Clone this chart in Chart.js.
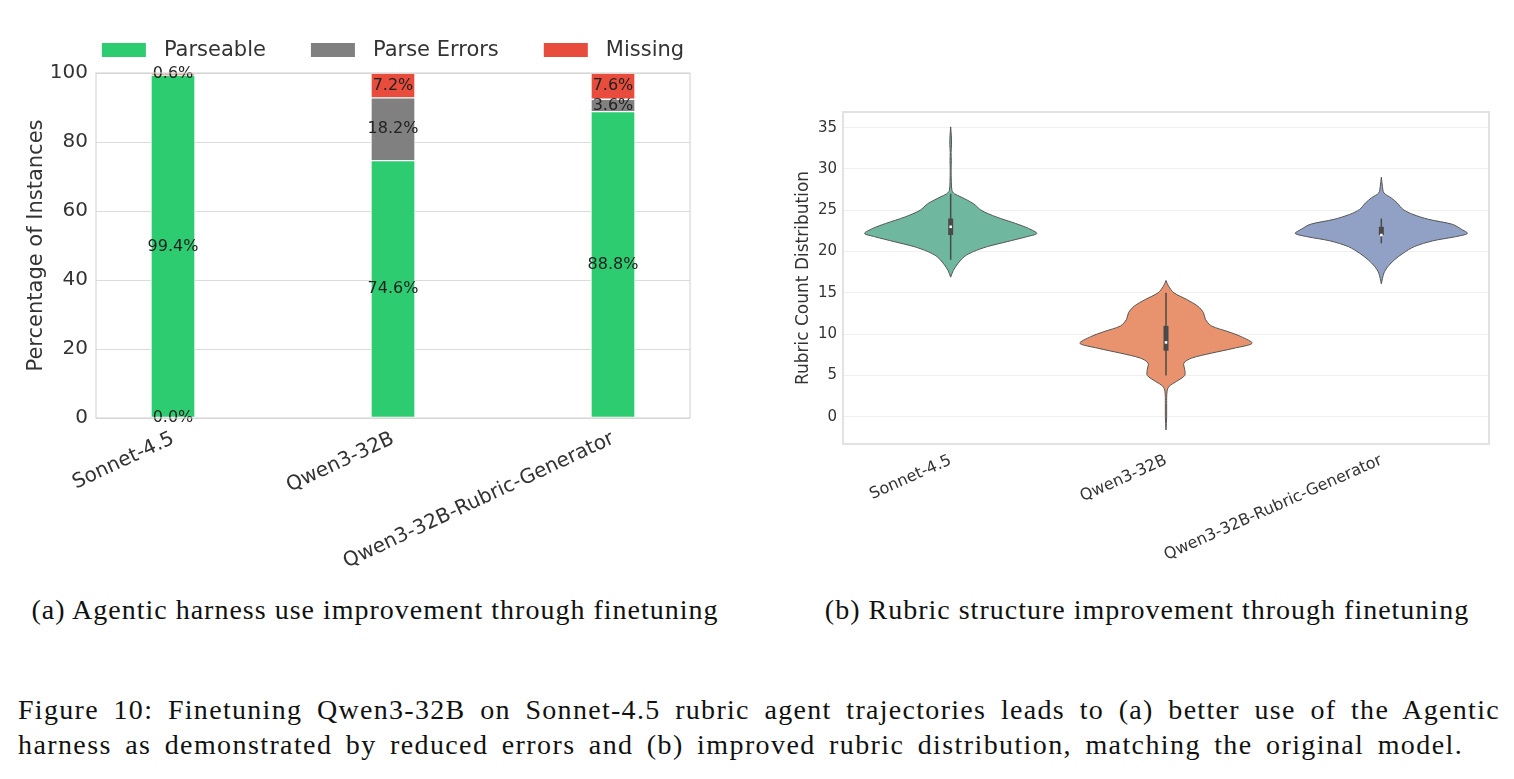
<!DOCTYPE html>
<html>
<head>
<meta charset="utf-8">
<script src="https://cdn.jsdelivr.net/npm/chart.js@4.4.1/dist/chart.umd.min.js"></script>
<style>
  html, body { margin: 0; padding: 0; background: #fff; }
  body { width: 1514px; height: 779px; position: relative; overflow: hidden; }
  #barBox { position: absolute; left: 0; top: 0; width: 760px; height: 590px; }
  #violinBox { position: absolute; left: 766px; top: 90px; width: 748px; height: 500px; }
  .serif { position: absolute; font-family: 'Liberation Serif', serif; font-size: 28px; color: #111; white-space: nowrap; }
  #capA { left: 0; width: 750px; top: 594px; text-align: center; letter-spacing: 1px; }
  #capB { left: 772px; width: 750px; top: 594px; text-align: center; letter-spacing: 1px; }
  #line1 { left: 18px; top: 694px; width: 1482px; text-align: justify; text-align-last: justify; letter-spacing: 1.3px; word-spacing: 4px; }
  #line2 { left: 18px; top: 729px; letter-spacing: 1.4px; word-spacing: 5px; }
</style>
</head>
<body>
<div id="barBox"><canvas id="barChart"></canvas></div>
<div id="violinBox"><canvas id="violinChart"></canvas></div>
<div class="serif" id="capA">(a) Agentic harness use improvement through finetuning</div>
<div class="serif" id="capB">(b) Rubric structure improvement through finetuning</div>
<div class="serif" id="line1">Figure 10: Finetuning Qwen3-32B on Sonnet-4.5 rubric agent trajectories leads to (a) better use of the Agentic</div>
<div class="serif" id="line2">harness as demonstrated by reduced errors and (b) improved rubric distribution, matching the original model.</div>
<script>
// ---- (a) stacked bars ----
const models = ['Sonnet-4.5', 'Qwen3-32B', 'Qwen3-32B-Rubric-Generator'];
const parseable = [99.4, 74.6, 88.8];
const parseErrors = [0.0, 18.2, 3.6];
const missing = [0.6, 7.2, 7.6];
const pctTicks = [0, 20, 40, 60, 80, 100];

// ---- (b) violins, outlines ----
const rubricTicks = [0, 5, 10, 15, 20, 25, 30, 35];
// rubric count level -> half width of the violin (category units)
const sonnetLevels = [16.9, 17.7, 18.5, 19.4, 20.0, 20.6, 21.2, 21.8, 22.2, 22.8, 23.4, 24.2, 25.0, 25.8, 26.6, 27.0, 27.4, 28.5, 30.0, 31.0, 32.0, 33.0, 34.0, 35.1];
const sonnetWidths = [0, 0.012, 0.032, 0.064, 0.106, 0.170, 0.262, 0.353, 0.40, 0.362, 0.302, 0.211, 0.142, 0.106, 0.049, 0.018, 0.006, 0.003, 0.002, 0.003, 0.002, 0.004, 0.003, 0];
const qwenLevels = [-1.6, 0.0, 1.6, 3.1, 3.7, 4.3, 5.0, 5.7, 6.5, 7.1, 7.7, 8.3, 8.9, 9.7, 10.3, 11.0, 11.8, 12.6, 13.4, 14.2, 15.0, 15.8, 16.5];
const qwenWidths = [0, 0.003, 0.003, 0.005, 0.015, 0.050, 0.087, 0.087, 0.083, 0.119, 0.211, 0.317, 0.40, 0.349, 0.289, 0.211, 0.183, 0.174, 0.147, 0.096, 0.037, 0.012, 0];
const genLevels = [16.1, 17.4, 18.2, 19.0, 19.8, 20.6, 21.3, 21.8, 22.2, 22.7, 23.3, 23.9, 24.5, 25.1, 25.9, 26.5, 27.1, 27.9, 29.0];
const genWidths = [0, 0.012, 0.031, 0.061, 0.101, 0.153, 0.239, 0.344, 0.40, 0.372, 0.330, 0.220, 0.147, 0.101, 0.073, 0.046, 0.012, 0.005, 0];
// inner box plot
const whiskerLow = [19, 5, 21];
const q1 = [22, 8, 22];
const medians = [23, 9, 22];
const q3 = [24, 11, 23];
const whiskerHigh = [27, 15, 24];

const violinColors = ['#70b7a0', '#e8936e', '#91a1c5'];
const tickColor = '#333';
const sans = "'DejaVu Sans', sans-serif";

// light frame around the plot area
const frame = {
  id: 'frame',
  afterDraw(chart, args, opts) {
    const a = chart.chartArea, ctx = chart.ctx;
    ctx.save();
    ctx.strokeStyle = opts.color;
    ctx.lineWidth = opts.width;
    ctx.strokeRect(a.left, a.top, a.right - a.left, a.bottom - a.top);
    ctx.restore();
  }
};

// percentage text in the middle of each segment
const segLabels = {
  id: 'segLabels',
  afterDatasetsDraw(chart) {
    const ctx = chart.ctx, xs = chart.scales.x, ys = chart.scales.y;
    ctx.save();
    ctx.font = '16px ' + sans;
    ctx.fillStyle = '#222';
    ctx.textAlign = 'center';
    ctx.textBaseline = 'middle';
    chart.data.datasets.forEach((ds, d) => {
      ds.data.forEach((pt, i) => {
        let base = 0;
        for (let k = 0; k < d; k++) base += chart.data.datasets[k].data[i].y;
        const mid = pt.y === 0 ? 0 : base + pt.y / 2;
        ctx.fillText(pt.y.toFixed(1) + '%', xs.getPixelForValue(pt.x), ys.getPixelForValue(mid));
      });
    });
    ctx.restore();
  }
};

// matplotlib-like legend row above the bars
const topLegend = {
  id: 'topLegend',
  afterDraw(chart) {
    const ctx = chart.ctx, a = chart.chartArea;
    const boxW = 44, boxH = 14, textGap = 18, itemGap = 45, y = 50;
    ctx.save();
    ctx.font = '21px ' + sans;
    ctx.textBaseline = 'middle';
    const items = chart.data.datasets.map(ds => ({ ds, w: ctx.measureText(ds.label).width }));
    const total = items.reduce((s, it) => s + boxW + textGap + it.w, 0) + itemGap * (items.length - 1);
    let x = (a.left + a.right) / 2 - total / 2;
    items.forEach(it => {
      ctx.fillStyle = it.ds.backgroundColor;
      ctx.fillRect(x, y - boxH / 2, boxW, boxH);
      ctx.fillStyle = tickColor;
      ctx.fillText(it.ds.label, x + boxW + textGap, y + 1);
      x += boxW + textGap + it.w + itemGap;
    });
    ctx.restore();
  }
};

const pts = arr => arr.map((v, i) => ({ x: i, y: v }));

new Chart(document.getElementById('barChart'), {
  type: 'bar',
  data: {
    datasets: [
      { label: 'Parseable', data: pts(parseable), backgroundColor: '#2ecc71' },
      { label: 'Parse Errors', data: pts(parseErrors), backgroundColor: '#808080' },
      { label: 'Missing', data: pts(missing), backgroundColor: '#e74c3c' }
    ]
  },
  options: {
    animation: false,
    responsive: true,
    maintainAspectRatio: false,
    layout: { padding: { left: 0, right: 70, top: 73, bottom: 12 } },
    datasets: { bar: { barThickness: 44, borderColor: '#ffffff', borderWidth: 1, borderSkipped: false } },
    plugins: { legend: { display: false }, tooltip: { enabled: false }, frame: { color: '#d0d0d0', width: 1 } },
    scales: {
      x: {
        type: 'linear', stacked: true, offset: false, min: -0.35, max: 2.35,
        afterBuildTicks: s => { s.ticks = models.map((m, i) => ({ value: i })); },
        afterFit: s => { s.height = 160; },
        ticks: { callback: v => models[v], minRotation: 25, maxRotation: 25, font: { size: 20, family: sans }, color: tickColor, padding: 9 },
        grid: { display: false, drawTicks: false },
        border: { display: false }
      },
      y: {
        stacked: true, min: 0, max: 100,
        afterBuildTicks: s => { s.ticks = pctTicks.map(v => ({ value: v })); },
        afterFit: s => { s.width = 96; },
        ticks: { font: { size: 20, family: sans }, color: tickColor, padding: 8 },
        grid: { color: '#dcdcdc', drawTicks: false },
        border: { display: false },
        title: { display: true, text: 'Percentage of Instances', font: { size: 21, family: sans }, color: tickColor, padding: { top: 24, bottom: 0 } }
      }
    }
  },
  plugins: [frame, segLabels, topLegend]
});

function outline(levels, widths, c) {
  const left = levels.map((y, i) => ({ x: c - widths[i], y }));
  const right = levels.map((y, i) => ({ x: c + widths[i], y })).reverse();
  return left.concat(right);
}

// lower "order" is drawn on top
const violinSets = [
  outline(sonnetLevels, sonnetWidths, 0),
  outline(qwenLevels, qwenWidths, 1),
  outline(genLevels, genWidths, 2)
].map((data, i) => ({
  data, showLine: true, fill: 'shape', tension: 0.3, order: 3,
  backgroundColor: violinColors[i], borderColor: '#555', borderWidth: 1, pointRadius: 0
}));

const whiskerSets = models.map((m, i) => ({
  data: [{ x: i, y: whiskerLow[i] }, { x: i, y: whiskerHigh[i] }], order: 2,
  showLine: true, borderColor: '#4a4a4a', borderWidth: 1.5, pointRadius: 0
}));
const boxSets = models.map((m, i) => ({
  data: [{ x: i, y: q1[i] }, { x: i, y: q3[i] }], order: 1,
  showLine: true, borderColor: '#4a4a4a', borderWidth: 5, pointRadius: 0
}));
const medianSet = {
  data: pts(medians), showLine: false, pointStyle: 'rect', pointRadius: 1.8, order: 0,
  backgroundColor: '#ffffff', borderWidth: 0
};

new Chart(document.getElementById('violinChart'), {
  type: 'scatter',
  data: { datasets: [...violinSets, ...whiskerSets, ...boxSets, medianSet] },
  options: {
    animation: false,
    responsive: true,
    maintainAspectRatio: false,
    layout: { padding: { left: 0, right: 25, top: 22, bottom: 20 } },
    plugins: { legend: { display: false }, tooltip: { enabled: false }, frame: { color: '#e2e2e2', width: 2 } },
    scales: {
      x: {
        type: 'linear', min: -0.5, max: 2.5,
        afterBuildTicks: s => { s.ticks = models.map((m, i) => ({ value: i })); },
        afterFit: s => { s.height = 126; },
        ticks: { callback: v => models[v], minRotation: 24, maxRotation: 24, font: { size: 16, family: sans }, color: tickColor, padding: 7 },
        grid: { display: false, drawTicks: false },
        border: { display: false }
      },
      y: {
        min: -3.3, max: 36.9,
        afterBuildTicks: s => { s.ticks = rubricTicks.map(v => ({ value: v })); },
        afterFit: s => { s.width = 77; },
        ticks: { font: { size: 15, family: sans }, color: tickColor, padding: 6 },
        grid: { color: '#f0f0f0', drawTicks: false },
        border: { display: false },
        title: { display: true, text: 'Rubric Count Distribution', font: { size: 17, family: sans }, color: tickColor, padding: { top: 27, bottom: 0 } }
      }
    }
  },
  plugins: [frame]
});
</script>
</body>
</html>
